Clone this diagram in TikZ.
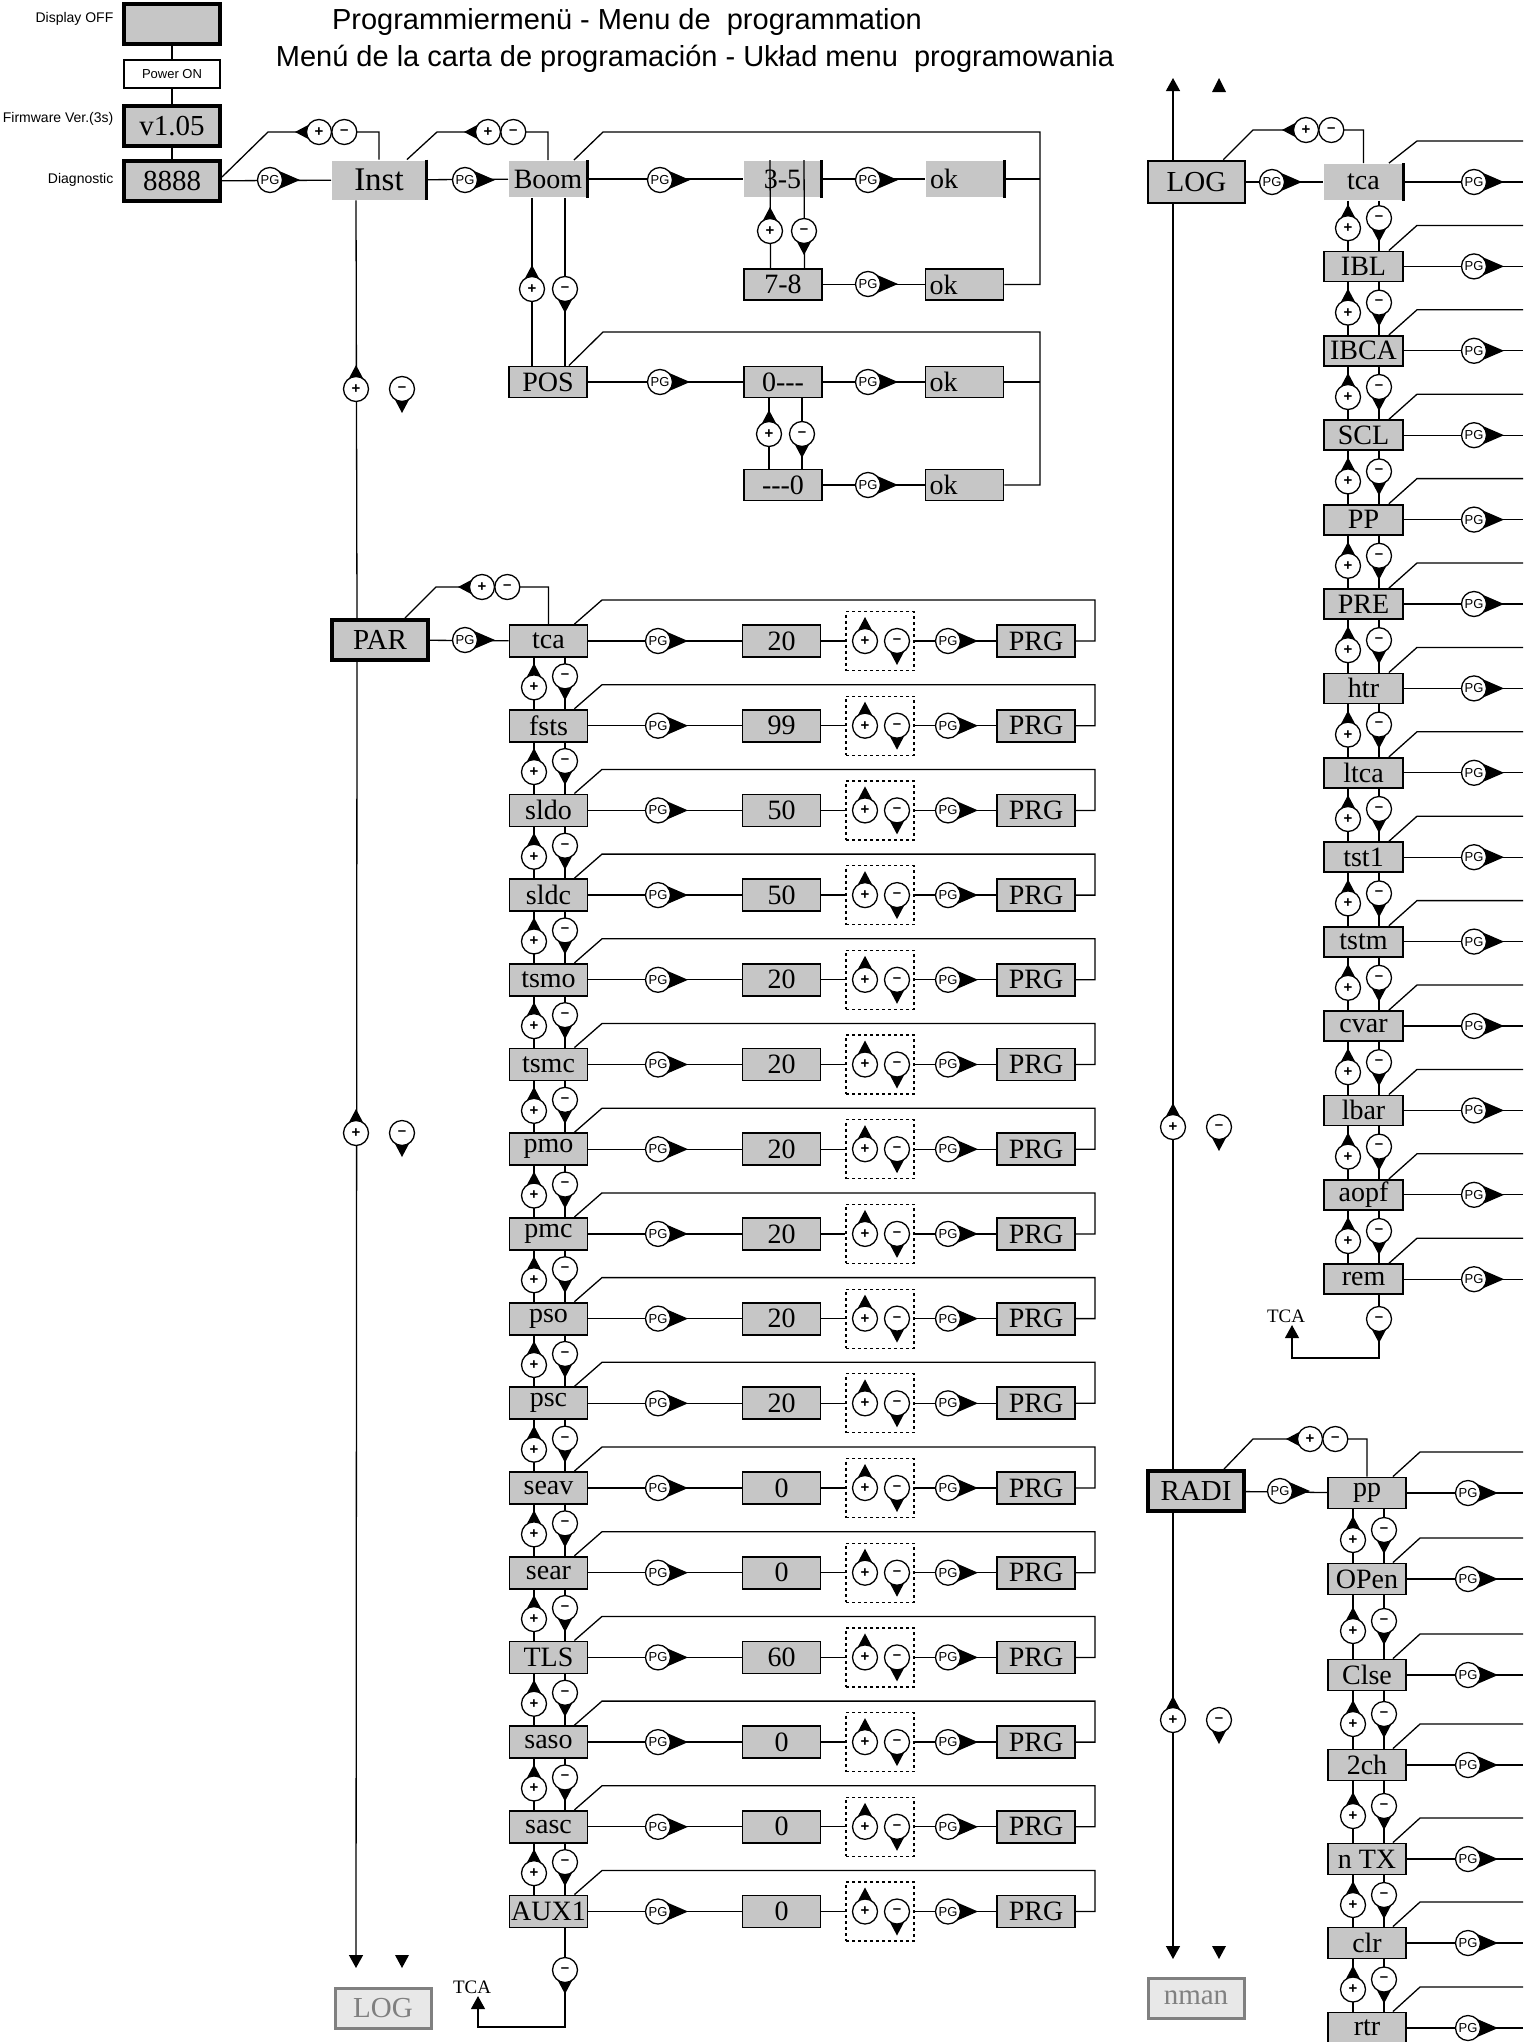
\documentclass[tikz,border=0pt]{standalone}
\usepackage{fontspec}
\setmainfont{Liberation Serif}
\setsansfont{Liberation Sans}
\usetikzlibrary{arrows.meta, positioning, calc}
\definecolor{boxgray}{RGB}{198,198,198}
\definecolor{ghostfill}{RGB}{232,232,232}
\definecolor{ghostline}{RGB}{128,128,128}
\newcommand{\boxfont}{\fontsize{28}{30}\selectfont}
% PG key: circle with a right pointing tip
\newcommand{\pgmark}[2]{%
  \fill (#2) ++(8,-9.5) -- ++(22,9.5) -- ++(-22,9.5) -- cycle;
  \node[pgdot] (#1) at (#2) {PG};}
% plus key with tip up, minus key with tip down
\newcommand{\plusmark}[2]{%
  \fill (#2) ++(-9,-7) -- ++(9,-17) -- ++(9,17) -- cycle;
  \node[signdot] (#1) at (#2) {+};}
\newcommand{\minusmark}[2]{%
  \fill (#2) ++(-9,7) -- ++(9,17) -- ++(9,-17) -- cycle;
  \node[signdot] (#1) at (#2) {–};}
% plus and minus keys side by side, tip to the left
\newcommand{\pmpair}[2]{%
  \fill (#2) ++(-7,-9) -- ++(-17,9) -- ++(17,9) -- cycle;
  \node[signdot] (#1p) at (#2) {+};
  \node[signdot, right=-1pt of #1p] (#1m) {–};}

\begin{document}
\begin{tikzpicture}[x=1pt, y=-1pt, line width=1.3pt,
  box/.style={draw, line width=1.8pt, fill=boxgray, inner sep=0pt,
    minimum width=78pt, minimum height=32pt, font=\boxfont},
  thickbox/.style={box, line width=4pt, minimum width=96pt, minimum height=40pt,
    font=\fontsize{29}{31}\selectfont},
  barebox/.style={box, draw=none},
  okbox/.style={box, text width=70pt, align=left},
  ghostbox/.style={thickbox, draw=ghostline, fill=ghostfill, text=ghostline, line width=3pt},
  dashbox/.style={draw, dashed, line width=1.2pt, minimum width=68pt,
    minimum height=59pt, inner sep=0pt},
  signdot/.style={circle, draw, fill=white, line width=1.3pt, minimum size=25pt,
    inner sep=0pt, font=\sffamily\bfseries\fontsize{15}{15}\selectfont},
  pgdot/.style={signdot, minimum size=25pt, font=\sffamily\fontsize{13}{13}\selectfont},
  lbl/.style={font=\sffamily\fontsize{14}{16}\selectfont, anchor=east, inner sep=0pt},
  titletext/.style={font=\sffamily\fontsize{29}{32}\selectfont, inner sep=0pt},
  tcatext/.style={font=\fontsize{19}{21}\selectfont, inner sep=2pt},
  rbar/.style={line width=3pt},
  tipR/.style={-{Triangle[length=13pt,width=14pt]}},
]
\useasboundingbox (0,0) rectangle (1523,2042);

% Title
\node[titletext] (title2) at (627,22) {Programmiermenü - Menu de\ \ programmation};
\node[titletext] (title3) at (695,59) {Menú de la carta de programación - Układ menu\ \ programowania};

% Start column
\node[thickbox] (dispoff) at (172,24) {};
\node[box, fill=white, minimum width=96pt, minimum height=28pt,
  font=\sffamily\fontsize{13}{15}\selectfont] (poweron) at (172,74) {Power ON};
\node[thickbox] (fw) at (172,126) {v1.05};
\node[thickbox] (diag) at (172,181) {8888};
\node[lbl] (lbloff) at (114,19) {Display OFF};
\node[lbl] (lblfw) at (114,119) {Firmware Ver.(3s)};
\node[lbl] (lbldiag) at (114,180) {Diagnostic};
\draw (dispoff) -- (poweron);
\draw (poweron) -- (fw);
\draw (fw) -- (diag);

% Inst / Boom / POS
\node[barebox, minimum width=94pt, minimum height=39pt,
  font=\fontsize{33}{35}\selectfont] (inst) at (379,180) {Inst};
\node[barebox, minimum height=36pt] (boom) at (548,179) {Boom};
\node[barebox, minimum width=77pt, minimum height=36pt] (b35) at (782.5,179) {3-5};
\node[okbox, draw=none, minimum height=36pt] (ok1) at (965,179) {ok};
\node[box, minimum height=31pt] (b78) at (783,284.5) {7-8};
\node[okbox, minimum height=31pt] (ok2) at (964.5,284.5) {ok};
\node[box, minimum height=31pt] (pos) at (548,382) {POS};
\node[box, minimum height=31pt] (z1) at (783,382) {0{-}{-}{-}};
\node[box, minimum height=31pt] (z2) at (783,485) {{-}{-}{-}0};
\node[okbox, minimum height=31pt] (ok3) at (964.5,382) {ok};
\node[okbox, minimum height=31pt] (ok4) at (964.5,485) {ok};
\foreach \n in {inst,boom,b35,ok1}
  \draw[rbar] (\n.north east) -- (\n.south east);

\draw (diag) -- (inst);
\draw (inst) -- (boom);
\draw (boom) -- (b35);
\draw (b35) -- (ok1);
\draw (b78) -- (ok2);
\draw (pos) -- (z1);
\draw (z1) -- (ok3);
\draw (z2) -- (ok4);
\coordinate (loopA) at (1040,132);
\draw ([xshift=-14pt]boom.north east) -- (603,132) -- (loopA) |- (ok2.east);
\draw (ok1.east) -- (ok1.east -| loopA);
\coordinate (loopB) at (1040,332);
\draw ([xshift=-19pt]pos.north east) -- (603,332) -- (loopB) |- (ok4.east);
\draw (ok3.east) -- (ok3.east -| loopB);
\draw ([xshift=-12.5pt]b35.north) -- ([xshift=-12.5pt]b78.north);
\draw ([xshift=21.5pt]b35.north) -- ([xshift=21.5pt]b78.north);
\draw ([xshift=-16pt]boom.south) -- ([xshift=-16pt]pos.north);
\draw ([xshift=17pt]boom.south) -- ([xshift=17pt]pos.north);
\draw ([xshift=-14pt]z1.south) -- ([xshift=-14pt]z2.north);
\draw ([xshift=19pt]z1.south) -- ([xshift=19pt]z2.north);
\draw ([yshift=4pt]diag.east) -- (268,132) -| (inst.north);
\draw ([xshift=-20pt]inst.north east) -- (437,132) -| (boom.north);

\pgmark{pgd}{270,180}
\pgmark{pgi}{465,180}
\pgmark{pgb}{660,180}
\pgmark{pg35}{868,180}
\pgmark{pg78}{868,284}
\pgmark{pgpos}{660,382}
\pgmark{pgz1}{868,382}
\pgmark{pgz2}{868,485}
\pmpair{pmi}{319,132}
\pmpair{pmb}{488,132}
\plusmark{pb35}{770,231}
\minusmark{mb35}{804,231}
\plusmark{pbm}{532,289}
\minusmark{mbm}{565,289}
\plusmark{pz}{769,434}
\minusmark{mz}{802,434}

% PAR menu
\node[thickbox] (par) at (380,640) {PAR};
\foreach \lab/\val [count=\i from 0] in {tca/20,fsts/99,sldo/50,sldc/50,tsmo/20,tsmc/20,
    pmo/20,pmc/20,pso/20,psc/20,seav/0,sear/0,TLS/60,saso/0,sasc/0,AUX1/0}{
  \pgfmathsetmacro{\yy}{641+84.7*\i}
  \node[box] (p\i) at (548.5,\yy) {\lab};
  \node[box] (v\i) at (781.5,\yy) {\val};
  \node[dashbox] (d\i) at (880,\yy) {};
  \node[box] (r\i) at (1036,\yy) {PRG};
  \draw (p\i) -- (v\i);
  \draw (v\i) -- (d\i);
  \draw (d\i) -- (r\i);
  \draw ([xshift=-14pt]p\i.north east) -- (602,\yy-41) -- (1095,\yy-41) |- (r\i.east);
  \pgmark{pga\i}{658,\yy}
  \pgmark{pgb\i}{948,\yy}
  \plusmark{dp\i}{865,\yy}
  \minusmark{dm\i}{897,\yy}
}
\foreach \i in {0,...,14}{
  \pgfmathtruncatemacro{\j}{\i+1}
  \pgfmathsetmacro{\ym}{641+84.7*\i+42.35}
  \draw ([xshift=-14.5pt]p\i.south) -- ([xshift=-14.5pt]p\j.north);
  \draw ([xshift=16.5pt]p\i.south) -- ([xshift=16.5pt]p\j.north);
  \plusmark{pu\i}{534,\ym+4}
  \minusmark{pm\i}{565,\ym-7}
}
\draw (par) -- (p0);
\draw ([xshift=-25pt]par.north east) -- (436,587) -| (p0.north);
\pgmark{pgpar}{465,640}
\pmpair{pmp}{482,587}

% back to TCA after AUX1
\node[tcatext] (tcaL) at (472,1987) {TCA};
\coordinate (retL) at (478,2027);
\draw[tipR] ([xshift=16.5pt]p15.south) |- (retL) -- (retL |- tcaL.south);
\minusmark{mtail}{565,1970}

% left main line
\coordinate (dnL) at (356,1968);
\coordinate (dnL2) at (402,1968);
\draw ([xshift=-23pt]inst.south) -- ([xshift=-23pt]par.north);
\draw[tipR] ([xshift=-23pt]par.south) -- (dnL);
\fill (dnL2) -- ++(-7,-13) -- ++(14,0) -- cycle;
\plusmark{pml1}{356,389}
\minusmark{mml1}{402,389}
\plusmark{pml2}{356,1133}
\minusmark{mml2}{402,1133}
\node[ghostbox] (logL) at (383,2008) {LOG};

% LOG menu
\node[box, line width=2.5pt, minimum width=97pt, minimum height=42pt,
  font=\fontsize{29}{31}\selectfont] (log) at (1196.5,182) {LOG};
\foreach \lab [count=\i from 0] in {tca,IBL,IBCA,SCL,PP,PRE,htr,ltca,tst1,tstm,cvar,lbar,aopf,rem}{
  \pgfmathsetmacro{\yy}{182+84.4*\i}
  \ifnum\i=0
    \node[barebox, minimum width=79pt, minimum height=36pt] (l\i) at (1363.5,\yy) {\lab};
  \else
    \node[box, minimum width=79pt, minimum height=30pt] (l\i) at (1363.5,\yy) {\lab};
  \fi
  \coordinate (le\i) at (1523,\yy);
  \draw (l\i) -- (le\i);
  \draw ([xshift=-15pt]l\i.north east) -- (1417,\yy-41) -- (1523,\yy-41);
  \pgmark{pgl\i}{1474,\yy}
}
\draw[rbar] (l0.north east) -- (l0.south east);
\foreach \i in {0,...,12}{
  \pgfmathtruncatemacro{\j}{\i+1}
  \pgfmathsetmacro{\ym}{182+84.4*\i+42.2}
  \draw ([xshift=-15.5pt]l\i.south) -- ([xshift=-15.5pt]l\j.north);
  \draw ([xshift=15.5pt]l\i.south) -- ([xshift=15.5pt]l\j.north);
  \plusmark{lu\i}{1348,\ym+4}
  \minusmark{lm\i}{1379,\ym-6}
}
\draw (log) -- (l0);
\draw ([xshift=-23pt]log.north east) -- (1253,130) -| (l0.north);
\pgmark{pglog}{1272,182}
\pmpair{pml}{1306,130}

% back to TCA after rem
\node[tcatext] (tcaR) at (1286,1316) {TCA};
\coordinate (retR) at (1292,1358);
\draw[tipR] ([xshift=15.5pt]l13.south) |- (retR) -- (retR |- tcaR.south);
\minusmark{mrem}{1379,1319}

% RADI menu
\node[thickbox] (radi) at (1196,1491) {RADI};
\foreach \lab/\yy [count=\i from 0] in {pp/1493,OPen/1579,Clse/1675,2ch/1765,n TX/1859,clr/1943,rtr/2028}{
  \node[box, minimum height=31pt] (q\i) at (1367,\yy) {\lab};
  \coordinate (qe\i) at (1523,\yy);
  \draw (q\i) -- (qe\i);
  \draw ([xshift=-14pt]q\i.north east) -- (1420,\yy-41) -- (1523,\yy-41);
  \pgmark{pgq\i}{1468,\yy}
}
\foreach \i/\ya/\yb in {0/1493/1579,1/1579/1675,2/1675/1765,3/1765/1859,4/1859/1943,5/1943/2028}{
  \pgfmathtruncatemacro{\j}{\i+1}
  \pgfmathsetmacro{\ym}{(\ya+\yb)/2}
  \draw ([xshift=-14pt]q\i.south) -- ([xshift=-14pt]q\j.north);
  \draw ([xshift=17pt]q\i.south) -- ([xshift=17pt]q\j.north);
  \plusmark{qu\i}{1353,\ym+4}
  \minusmark{qm\i}{1384,\ym-6}
}
\draw (radi) -- (q0);
\draw ([xshift=-22pt]radi.north east) -- (1253,1439) -| (q0.north);
\pgmark{pgradi}{1280,1491}
\pmpair{pmr}{1310,1439}

% right main line
\coordinate (upR) at (1173,78);
\coordinate (upR2) at (1219,78);
\coordinate (dnR) at (1173,1959);
\coordinate (dnR2) at (1219,1959);
\draw[tipR] ([xshift=-23.5pt]log.north) -- (upR);
\draw ([xshift=-23.5pt]log.south) -- ([xshift=-23pt]radi.north);
\draw[tipR] ([xshift=-23pt]radi.south) -- (dnR);
\fill (upR2) -- ++(-7,14) -- ++(14,0) -- cycle;
\fill (dnR2) -- ++(-7,-13) -- ++(14,0) -- cycle;
\plusmark{pmr1}{1173,1127}
\minusmark{mmr1}{1219,1127}
\plusmark{pmr2}{1173,1720}
\minusmark{mmr2}{1219,1720}
\node[ghostbox] (nman) at (1196,1998) {nman};
\end{tikzpicture}
\end{document}
